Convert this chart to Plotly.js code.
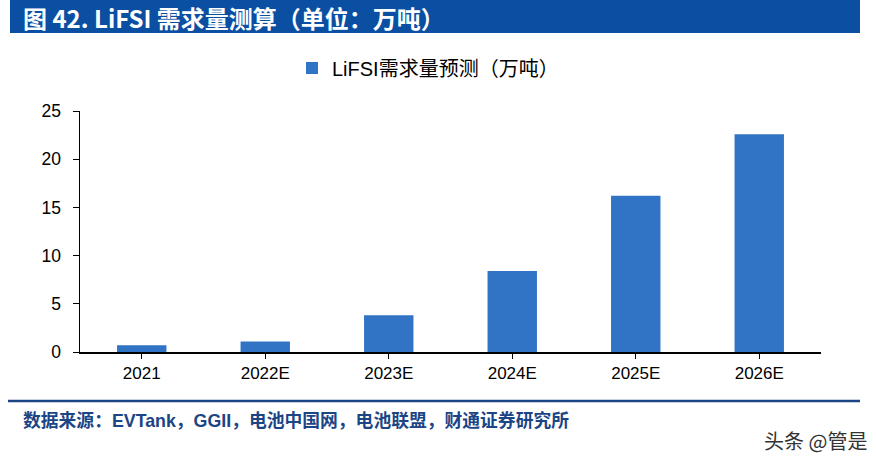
<!DOCTYPE html>
<html>
<head>
<meta charset="utf-8">
<script src="https://cdn.plot.ly/plotly-3.0.1.min.js"></script>
<style>
html,body{margin:0;padding:0;background:#fff;}
#chart{width:876px;height:465px;}
</style>
</head>
<body>
<div id="chart"></div>
<script>
const categories = ["2021", "2022E", "2023E", "2024E", "2025E", "2026E"];
const demand = [0.7, 1.1, 3.8, 8.4, 16.2, 22.6];
const seriesName = "LiFSI需求量预测（万吨）";
const yTicks = [0, 5, 10, 15, 20, 25];
const headerText = "图 42. LiFSI 需求量测算（单位：万吨）";
const sourceText = "数据来源：EVTank，GGII，电池中国网，电池联盟，财通证券研究所";
const watermark = "头条 @管是";

const FONT = "Liberation Sans, Arial, Noto Sans CJK SC, sans-serif";
const W = 876, H = 465;
const L = 80, R = 55, T = 111, B = 113;
const pw = W - L - R, ph = H - T - B;
const px = v => (v - L) / pw;
const py = v => (H - B - v) / ph;

const trace = {
  type: "bar",
  x: categories,
  y: demand,
  name: seriesName,
  marker: {color: "#3173C4"},
  width: 0.4,
  showlegend: true,
  hoverinfo: "skip"
};

const layout = {
  width: W, height: H,
  margin: {l: L, r: R, t: T, b: B, pad: 0},
  paper_bgcolor: "#fff",
  plot_bgcolor: "#fff",
  font: {family: FONT, size: 17, color: "#000"},
  showlegend: true,
  legend: {
    x: px(292), xanchor: "left",
    y: py(68), yanchor: "middle",
    orientation: "h",
    font: {family: FONT, size: 20, color: "#000"},
    bgcolor: "rgba(0,0,0,0)",
    itemclick: false
  },
  xaxis: {
    type: "category",
    showline: true, linecolor: "#000", linewidth: 1.5,
    ticks: "outside", ticklen: 5, tickcolor: "#000", tickwidth: 1,
    showgrid: false, zeroline: false,
    tickfont: {family: FONT, size: 17, color: "#000"}
  },
  yaxis: {
    range: [0, 25],
    tickvals: yTicks,
    showline: true, linecolor: "#000", linewidth: 1.5,
    ticks: "outside", ticklen: 6, tickcolor: "#000", tickwidth: 1,
    showgrid: false, zeroline: false,
    ticklabelstandoff: 8,
    tickfont: {family: FONT, size: 17.5, color: "#000"}
  },
  shapes: [
    {type: "rect", xref: "paper", yref: "paper",
     x0: px(10), x1: px(860), y0: py(0), y1: py(33),
     fillcolor: "#0B4FA3", line: {width: 0}, layer: "below"},
    {type: "line", xref: "paper", yref: "paper",
     x0: px(8), x1: px(860), y0: py(401), y1: py(401),
     line: {color: "#1C4585", width: 2.5}}
  ],
  annotations: [
    {xref: "paper", yref: "paper", x: px(21), y: py(17),
     xanchor: "left", yanchor: "middle", showarrow: false,
     text: "<b>" + headerText + "</b>",
     font: {family: "Noto Sans CJK SC, Liberation Sans", size: 24, color: "#fff"}},
    {xref: "paper", yref: "paper", x: px(21), y: py(421),
     xanchor: "left", yanchor: "middle", showarrow: false,
     text: "<b>" + sourceText + "</b>",
     font: {family: "Liberation Sans, Noto Sans CJK SC", size: 17.8, color: "#1C4585"}},
    {xref: "paper", yref: "paper", x: px(869), y: py(440),
     xanchor: "right", yanchor: "middle", showarrow: false,
     text: watermark,
     font: {family: "Noto Sans CJK SC, Liberation Sans", size: 20, color: "#333"}}
  ]
};

Plotly.newPlot("chart", [trace], layout, {displayModeBar: false, staticPlot: true});
</script>
</body>
</html>
